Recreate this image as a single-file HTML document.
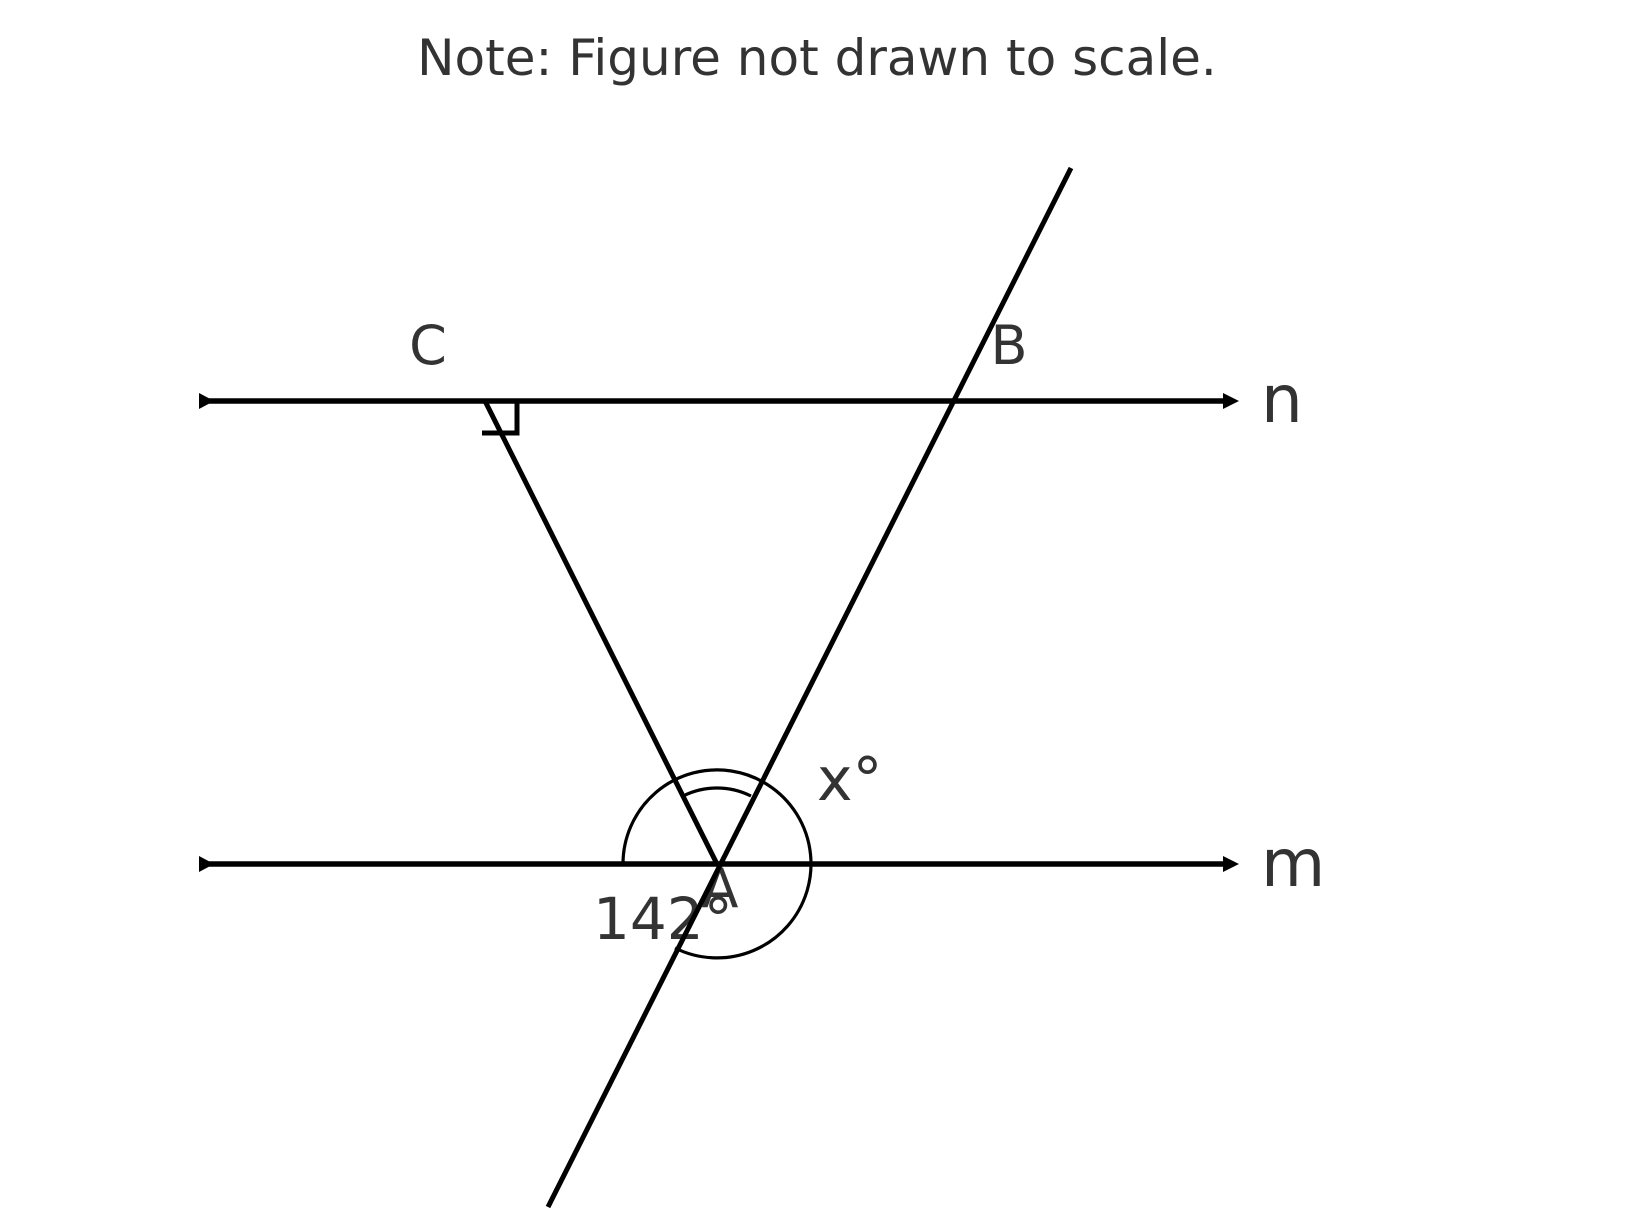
<!DOCTYPE html>
<html><head><meta charset="utf-8"><style>html,body{margin:0;padding:0;background:#fff}svg{display:block}</style></head>
<body>
<svg width="1627" height="1222" viewBox="0 0 1627 1222" xmlns="http://www.w3.org/2000/svg">
<g font-family="DejaVu Sans, Liberation Sans, sans-serif" fill="#333">
<text x="817" y="75" font-size="50" text-anchor="middle">Note: Figure not drawn to scale.</text>
<text x="428" y="364" font-size="54" text-anchor="middle">C</text>
<text x="1009" y="364" font-size="54" text-anchor="middle">B</text>
<text x="1261" y="422" font-size="66">n</text>
<text x="1261" y="886" font-size="66">m</text>
<text x="817" y="800" font-size="60">x°</text>
<text x="593" y="939" font-size="58">142°</text>
<text x="720" y="907" font-size="54" text-anchor="middle">A</text>
</g>
<g stroke="#000" fill="none">
<line x1="203" y1="401" x2="1225" y2="401" stroke-width="5.5"/>
<line x1="203" y1="864" x2="1225" y2="864" stroke-width="5.5"/>
<line x1="1071" y1="168" x2="548" y2="1207" stroke-width="5"/>
<line x1="485" y1="401" x2="717" y2="864" stroke-width="5"/>
<polyline points="482,433 517,433 517,401" stroke-width="5"/>
<path d="M623,864 A94,94 0 1 1 675,948" stroke-width="3.2"/>
<path d="M683,796 A76,76 0 0 1 751,796" stroke-width="3.2"/>
</g>
<g fill="#000">
<polygon points="199,393 199,409 214,401"/>
<polygon points="1223,393 1223,409 1239,401"/>
<polygon points="199,856 199,872 214,864"/>
<polygon points="1223,856 1223,872 1239,864"/>
</g>
</svg>
</body></html>
